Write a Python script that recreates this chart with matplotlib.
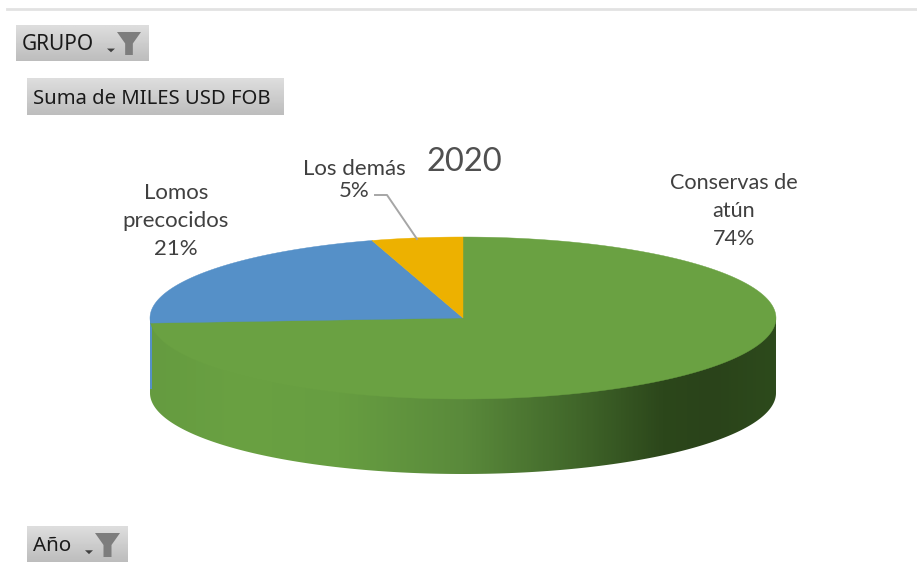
import numpy as np
import matplotlib
matplotlib.use('Agg')
import matplotlib.pyplot as plt
from matplotlib.colors import LinearSegmentedColormap
from matplotlib.patches import Polygon, Rectangle

# porcentajes del grafico, en sentido horario desde arriba (estimados, las etiquetas redondean)
categorias = ['Conservas de\natún', 'Lomos\nprecocidos', 'Los demás']
valores = [74.0, 21.3, 4.7]
colores = ['#6aa142', '#5590c8', '#edb100']
titulo = '2020'
botones = ['GRUPO', 'Suma de MILES USD FOB', 'Año']

cx, cy, rx, ry, depth = 463, 318, 313, 81, 75

fig = plt.figure(figsize=(9.17, 5.75), dpi=100)
ax = fig.add_axes([0, 0, 1, 1])
ax.set_xlim(0, 917)
ax.set_ylim(575, 0)
ax.axis('off')


def borde(a):
    # a en grados desde arriba, sentido horario
    r = np.radians(a)
    return cx + rx * np.sin(r), cy - ry * np.cos(r)


def gris(x0, y0, x1, y1):
    g = np.linspace(0.87, 0.74, 40).reshape(-1, 1)
    ax.imshow(g, cmap='gray', vmin=0, vmax=1, extent=[x0, x1, y1, y0], aspect='auto', zorder=1)


def embudo(x, y, w, h):
    ax.add_patch(Polygon([(x, y), (x + w, y), (x + w * 0.66, y + h * 0.5), (x + w * 0.66, y + h),
                          (x + w * 0.34, y + h), (x + w * 0.34, y + h * 0.5)], fc='#7d7d7d', ec='none', zorder=2))
    # flechita del desplegable
    ax.add_patch(Polygon([(x - 10, y + h * 0.72), (x - 2, y + h * 0.72), (x - 6, y + h * 0.88)],
                         fc='#404040', ec='none', zorder=2))


# linea superior
ax.plot([7, 917], [9, 9], color='#e2e2e2', lw=2, zorder=1)

# lado del pastel: degradado horizontal recortado
angulos = np.cumsum([0] + valores) * 3.6
t = np.linspace(90, 270, 200)
xs, ys = borde(t)
# arco inferior mas recta por el centro, la cara superior tapa lo demas
lado = np.r_[[[cx + rx, cy]], np.c_[xs, ys + depth], [[cx - rx, cy]]]

grad = LinearSegmentedColormap.from_list('lado', [
    (0, '#659b40'), (0.14, '#6aa142'), (0.3, '#679e41'), (0.5, '#5a8a3b'),
    (0.68, '#41672a'), (0.82, '#2c471b'), (0.9, '#2a431a'), (1, '#2d4a1c')])
img = ax.imshow(np.linspace(0, 1, 400).reshape(1, -1), cmap=grad, vmin=0, vmax=1,
                extent=[cx - rx, cx + rx, cy + ry + depth, cy - ry], aspect='auto', zorder=3)
img.set_clip_path(Polygon(lado, transform=ax.transData))

# astilla azul en el borde izquierdo del lado
ax.add_patch(Rectangle((cx - rx, cy), 2, depth - 4, fc=colores[1], ec='none', zorder=4))

# cara superior
for i, c in enumerate(colores):
    ex, ey = borde(np.linspace(angulos[i], angulos[i + 1], 200))
    ax.add_patch(Polygon(np.r_[[[cx, cy]], np.c_[ex, ey]], fc=c, ec=c, lw=0.3, zorder=5))

texto = dict(family='Lato', color='#404040', ha='center', va='center', zorder=6)
ax.text(734, 211, categorias[0] + '\n%.0f%%' % valores[0], fontsize=15.6, linespacing=1.5, **texto)
ax.text(176, 221, categorias[1] + '\n%.0f%%' % valores[1], fontsize=16, linespacing=1.5, **texto)
ax.text(354, 180, categorias[2] + '\n%.0f%%' % valores[2], fontsize=16, linespacing=1.1, **texto)
ax.text(464, 162, titulo, fontsize=23.5, family='Lato', color='#505050', ha='center', va='center', zorder=6)

# linea guia de Los demas
ax.plot([375, 387, 417], [195, 195, 239], color='#a6a6a6', lw=1.4, zorder=6)

# botones de tabla dinamica
gris(16, 25, 149, 61)
gris(27, 78, 284, 115)
gris(27, 526, 128, 562)
boton = dict(family='Noto Sans', color='#1a1a1a', va='center', ha='left', zorder=3)
ax.text(22, 45, botones[0], fontsize=15, **boton)
ax.text(33, 99, botones[1], fontsize=14.6, **boton)
ax.text(33, 546, botones[2], fontsize=14.8, **boton)
embudo(117, 32, 24, 23)
embudo(95, 533, 25, 24)

ax.set_xlim(0, 917)
ax.set_ylim(575, 0)
fig.savefig('out.png', dpi=100)
